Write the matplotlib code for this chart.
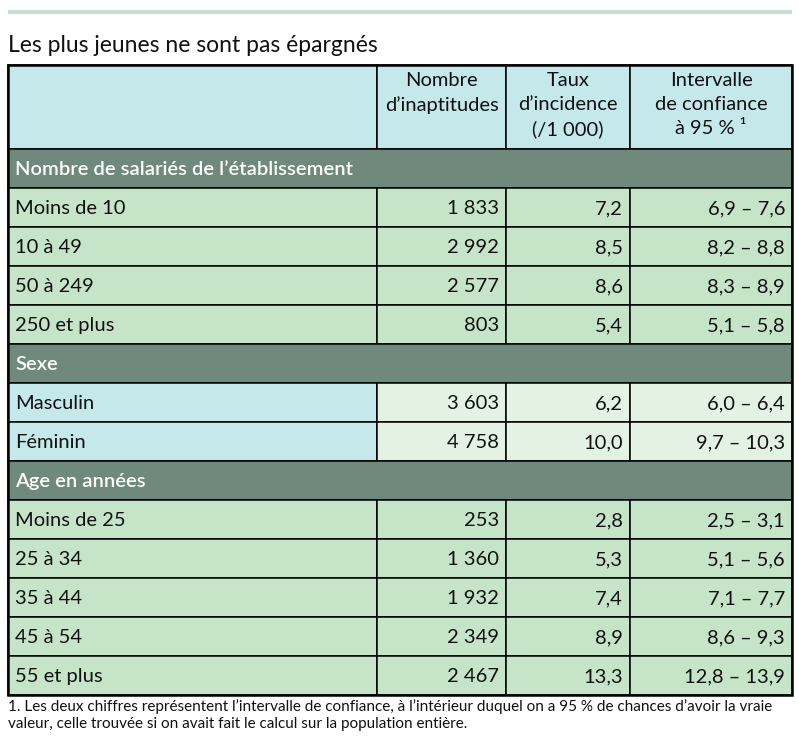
import matplotlib.pyplot as plt
from matplotlib.patches import Rectangle

plt.rcParams['font.family'] = ['Lato', 'DejaVu Sans']

# --- Données du tableau
titre = "Les plus jeunes ne sont pas épargnés"
entetes = ["Nombre\nd\u2019inaptitudes", "Taux\nd\u2019incidence\n(/1\u202f000)", "Intervalle\nde confiance\nà 95 % \u00b9"]

sections = ["Nombre de salariés de l\u2019établissement", "Sexe", "Age en années"]
libelles = [
    ["Moins de 10", "10 à 49", "50 à 249", "250 et plus"],
    ["Masculin", "Féminin"],
    ["Moins de 25", "25 à 34", "35 à 44", "45 à 54", "55 et plus"],
]
nb_inaptitudes = [
    ["1 833", "2 992", "2 577", "803"],
    ["3 603", "4 758"],
    ["253", "1 360", "1 932", "2 349", "2 467"],
]
taux = [
    ["7,2", "8,5", "8,6", "5,4"],
    ["6,2", "10,0"],
    ["2,8", "5,3", "7,4", "8,9", "13,3"],
]
intervalle = [
    ["6,9 \u2013 7,6", "8,2 \u2013 8,8", "8,3 \u2013 8,9", "5,1 \u2013 5,8"],
    ["6,0 \u2013 6,4", "9,7 \u2013 10,3"],
    ["2,5 \u2013 3,1", "5,1 \u2013 5,6", "7,1 \u2013 7,7", "8,6 \u2013 9,3", "12,8 \u2013 13,9"],
]
note = ("1. Les deux chiffres représentent l\u2019intervalle de confiance, à l\u2019intérieur duquel on a 95 % de chances d\u2019avoir la vraie\n"
        "valeur, celle trouvée si on avait fait le calcul sur la population entière.")

# couleurs
c_entete = "#c5e8ea"
c_section = "#6f8a7c"
c_ligne = "#c6e5c8"
c_clair = "#e3f2e3"
c_trait = "#c7dfd1"

fig = plt.figure(figsize=(7.99, 7.48), dpi=100)
ax = fig.add_axes([0, 0, 1, 1])
ax.set_xlim(0, 799)
ax.set_ylim(748, 0)
ax.axis('off')

xs = [8, 377, 506, 630, 792]
haut_entete = 84
haut_ligne = 39
y0 = 65
taille = 14.5

ax.plot([8, 792], [11.5, 11.5], color=c_trait, lw=3, solid_capstyle='butt')
ax.text(8, 45, titre, fontsize=16.5, va='center', ha='left', color='#111111')

def cellule(x1, x2, y, h, couleur):
    ax.add_patch(Rectangle((x1, y), x2 - x1, h, facecolor=couleur, edgecolor='black', lw=1.1))

# entête
cellule(xs[0], xs[1], y0, haut_entete, c_entete)
for j, txt in enumerate(entetes):
    cellule(xs[j + 1], xs[j + 2], y0, haut_entete, c_entete)
    ax.text((xs[j + 1] + xs[j + 2]) / 2, y0 + 7, txt, ha='center', va='top',
            fontsize=taille, linespacing=1.5, color='#111111')

y = y0 + haut_entete
for s, nom in enumerate(sections):
    ax.add_patch(Rectangle((xs[0], y), xs[-1] - xs[0], haut_ligne, facecolor=c_section,
                           edgecolor='black', lw=1.1))
    ax.text(15, y + haut_ligne / 2 + 1, nom, ha='left', va='center', fontsize=taille,
            color='white', fontweight='semibold')
    y += haut_ligne
    for i, lib in enumerate(libelles[s]):
        if s == 1:
            coul1, coul2 = c_entete, c_clair
        else:
            coul1, coul2 = c_ligne, c_ligne
        cellule(xs[0], xs[1], y, haut_ligne, coul1)
        for j in range(3):
            cellule(xs[j + 1], xs[j + 2], y, haut_ligne, coul2)
        yc = y + haut_ligne / 2 + 1
        ax.text(15, yc, lib, ha='left', va='center', fontsize=taille, color='#111111')
        vals = [nb_inaptitudes[s][i], taux[s][i], intervalle[s][i]]
        for j, v in enumerate(vals):
            ax.text(xs[j + 2] - 7, yc, v, ha='right', va='center', fontsize=taille, color='#111111')
        y += haut_ligne

# cadre extérieur
ax.add_patch(Rectangle((xs[0], y0), xs[-1] - xs[0], y - y0, facecolor='none',
                       edgecolor='black', lw=1.8))

ax.text(8, y + 4, note, ha='left', va='top', fontsize=11, linespacing=1.25,
        color='#111111')

fig.savefig("out.png", dpi=100)
